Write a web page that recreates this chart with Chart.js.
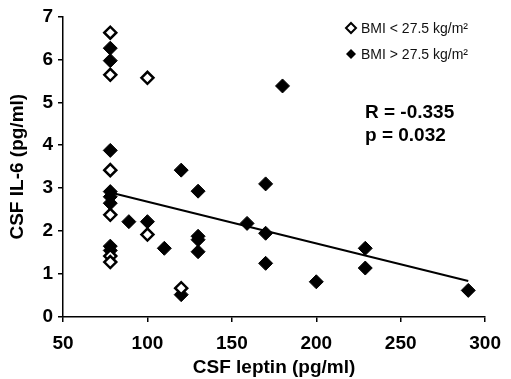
<!DOCTYPE html>
<html>
<head>
<meta charset="utf-8">
<script src="https://cdn.jsdelivr.net/npm/chart.js@4"></script>
<style>
  body { margin: 0; background: #fff; }
  #wrap { width: 511px; height: 379px; }
</style>
</head>
<body>
<div id="wrap"><canvas id="chart" width="511" height="379"></canvas></div>
<script>
// BMI < 27.5 (open diamonds)
const lowX = [78, 78, 78, 78, 78, 78, 100, 100, 120];
const lowY = [6.62, 5.64, 3.42, 2.38, 1.42, 1.28, 5.57, 1.92, 0.67];

// BMI > 27.5 (filled diamonds)
const highX = [78, 78, 78, 78, 78, 78, 78, 78, 89, 100, 110, 120, 120, 130, 130, 130, 130, 159, 170, 170, 170, 180, 200, 229, 229, 290];
const highY = [6.26, 5.97, 3.88, 2.92, 2.8, 2.65, 1.65, 1.55, 2.22, 2.22, 1.6, 3.42, 0.52, 2.93, 1.88, 1.8, 1.52, 2.18, 3.1, 1.95, 1.25, 5.38, 0.82, 1.6, 1.14, 0.62];

// regression line end points
const trendX = [78, 290];
const trendY = [2.9, 0.84];

const xTicks = [50, 100, 150, 200, 250, 300];
const yTicks = [0, 1, 2, 3, 4, 5, 6, 7];
const legendLabels = ['BMI < 27.5 kg/m\u00B2', 'BMI > 27.5 kg/m\u00B2'];
const statLines = ['R = -0.335', 'p = 0.032'];

const toPoints = (xs, ys) => xs.map((x, i) => ({ x: x, y: ys[i] }));

// draws the legend and the R / p text in the upper right
const notesPlugin = {
    id: 'notes',
    afterDraw(chart) {
        const ctx = chart.ctx;
        ctx.save();
        ctx.font = '14px Arial, "Liberation Sans", sans-serif';
        ctx.textBaseline = 'middle';
        const rows = [28, 54];
        rows.forEach((y, i) => {
            const cx = 351, r = 5;
            ctx.beginPath();
            ctx.moveTo(cx, y - r);
            ctx.lineTo(cx + r, y);
            ctx.lineTo(cx, y + r);
            ctx.lineTo(cx - r, y);
            ctx.closePath();
            if (i === 0) {
                ctx.fillStyle = '#fff';
                ctx.fill();
                ctx.lineWidth = 2;
                ctx.strokeStyle = '#000';
                ctx.stroke();
            } else {
                ctx.fillStyle = '#000';
                ctx.fill();
            }
            ctx.fillStyle = '#111';
            ctx.fillText(legendLabels[i], 361, y + 1);
        });
        ctx.fillStyle = '#000';
        ctx.font = 'bold 19px Arial, "Liberation Sans", sans-serif';
        ctx.textBaseline = 'alphabetic';
        ctx.fillText(statLines[0], 365, 118);
        ctx.fillText(statLines[1], 365, 141);
        ctx.restore();
    }
};

const tickFont = { family: 'Arial, "Liberation Sans", sans-serif', size: 19, weight: 'bold' };
const titleFont = { family: 'Arial, "Liberation Sans", sans-serif', size: 19, weight: 'bold' };

new Chart(document.getElementById('chart'), {
    type: 'scatter',
    data: {
        datasets: [
            {
                label: legendLabels[0],
                data: toPoints(lowX, lowY),
                pointStyle: 'rectRot',
                pointRadius: 6,
                pointBackgroundColor: '#fff',
                pointBorderColor: '#000',
                pointBorderWidth: 2.5,
                order: 0
            },
            {
                label: legendLabels[1],
                data: toPoints(highX, highY),
                pointStyle: 'rectRot',
                pointRadius: 7,
                pointBackgroundColor: '#000',
                pointBorderColor: '#000',
                pointBorderWidth: 1,
                order: 1
            },
            {
                type: 'line',
                data: toPoints(trendX, trendY),
                borderColor: '#000',
                borderWidth: 2,
                pointRadius: 0,
                fill: false,
                order: 2
            }
        ]
    },
    options: {
        responsive: false,
        animation: false,
        layout: { padding: { top: 15, right: 23, left: 0, bottom: 0 } },
        plugins: {
            legend: { display: false },
            tooltip: { enabled: false }
        },
        scales: {
            x: {
                type: 'linear',
                min: 50,
                max: 300,
                afterBuildTicks: (scale) => { scale.ticks = xTicks.map(v => ({ value: v })); },
                afterFit: (scale) => { scale.height = 62; },
                grid: { display: true, drawOnChartArea: false, tickLength: 5, color: '#000', lineWidth: 1.5 },
                border: { display: true, color: '#000', width: 1.5 },
                ticks: { color: '#000', font: tickFont, padding: 10, maxRotation: 0 },
                title: { display: true, text: 'CSF leptin (pg/ml)', color: '#000', font: titleFont, padding: 0 }
            },
            y: {
                type: 'linear',
                min: 0,
                max: 7,
                afterBuildTicks: (scale) => { scale.ticks = yTicks.map(v => ({ value: v })); },
                afterFit: (scale) => { scale.width = 63; },
                grid: { display: true, drawOnChartArea: false, tickLength: 5, color: '#000', lineWidth: 1.5 },
                border: { display: true, color: '#000', width: 1.5 },
                ticks: { color: '#000', font: tickFont, padding: 5 },
                title: { display: true, text: 'CSF IL-6 (pg/ml)', color: '#000', font: titleFont, padding: { top: 6, bottom: 0 } }
            }
        }
    },
    plugins: [notesPlugin]
});
</script>
</body>
</html>
